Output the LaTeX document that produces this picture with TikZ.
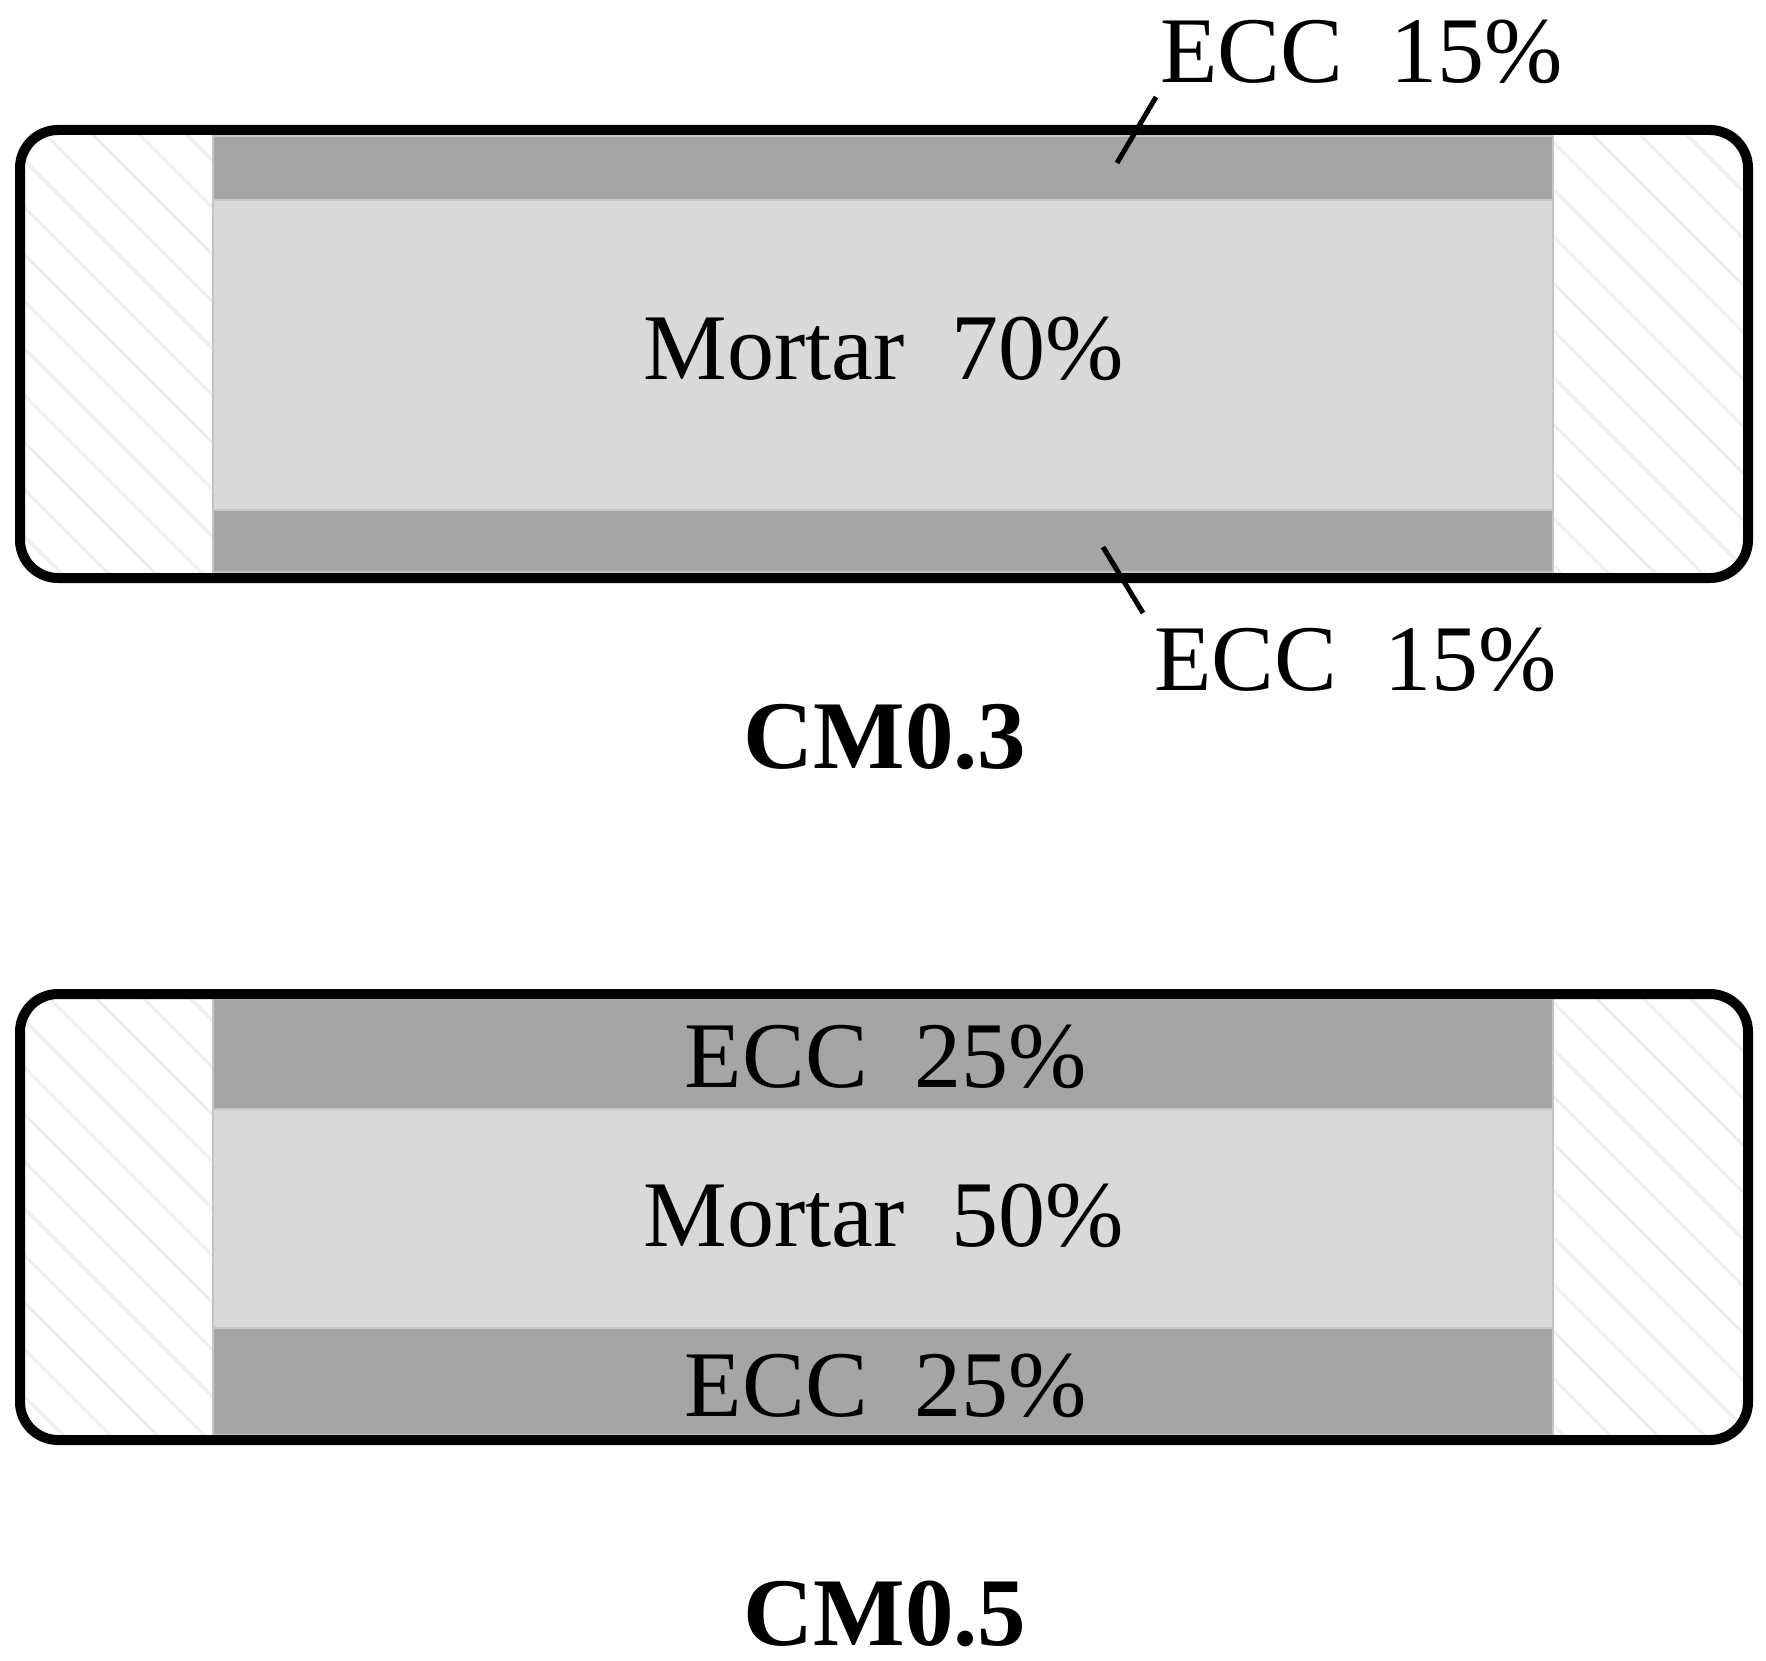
\documentclass[tikz,border=0pt]{standalone}
\usepackage{fontspec}
\setmainfont{Liberation Serif}
\definecolor{ecc}{HTML}{A5A5A5}
\definecolor{mortar}{HTML}{D9D9D9}
\definecolor{edge}{HTML}{C4C4C4}
\definecolor{hatch}{HTML}{EFEFEF}
\begin{document}
\begin{tikzpicture}[x=1pt,y=-1pt,
  lbl/.style={inner sep=0pt,font=\fontsize{94}{100}\selectfont},
  ttl/.style={inner sep=0pt,font=\fontsize{97}{100}\selectfont\bfseries},
  eccband/.style={fill=ecc,draw=edge,line width=1.5pt},
  mortarband/.style={fill=mortar,draw=edge,line width=1.5pt},
  frame/.style={draw=black,line width=10pt,rounded corners=38pt},
  leader/.style={draw=black,line width=5pt}]
\useasboundingbox (0,0) rectangle (1766,1661);

% ---------- specimen CM0.3 ----------
\begin{scope}
  \clip (25,135) rectangle (213,573);
  \foreach \k in {-600,-553,...,300} \draw[hatch,line width=3pt] (\k,100) -- ++(520,520);
\end{scope}
\begin{scope}
  \clip (1553,135) rectangle (1743,573);
  \foreach \k in {900,947,...,1800} \draw[hatch,line width=3pt] (\k,100) -- ++(520,520);
\end{scope}
\draw[eccband] (213,136) rectangle (1553,200);
\draw[mortarband] (213,200) rectangle (1553,510);
\draw[eccband] (213,510) rectangle (1553,572);
\draw[frame] (20,130) rectangle (1748,578);

\node[lbl,anchor=base] (m70) at (884,379) {Mortar~~70\%};
\node[lbl,anchor=base west] (e15t) at (1160,83) {ECC~~15\%};
\node[lbl,anchor=base west] (e15b) at (1154,690) {ECC~~15\%};
\coordinate (p1) at (1117,163);
\coordinate (p2) at (1103,547);
\draw[leader] (p1) -- (1156,97);
\draw[leader] (p2) -- (1143,613);
\node[ttl,anchor=base] (cm3) at (885,768) {CM0.3};

% ---------- specimen CM0.5 ----------
\begin{scope}
  \clip (25,999) rectangle (213,1435);
  \foreach \k in {-600,-553,...,300} \draw[hatch,line width=3pt] (\k,960) -- ++(520,520);
\end{scope}
\begin{scope}
  \clip (1553,999) rectangle (1743,1435);
  \foreach \k in {900,947,...,1800} \draw[hatch,line width=3pt] (\k,960) -- ++(520,520);
\end{scope}
\draw[eccband] (213,999) rectangle (1553,1109);
\draw[mortarband] (213,1109) rectangle (1553,1328);
\draw[eccband] (213,1328) rectangle (1553,1435);
\draw[frame] (20,994) rectangle (1748,1440);

\node[lbl,anchor=base] (e25t) at (886,1087) {ECC~~25\%};
\node[lbl,anchor=base] (m50) at (884,1246) {Mortar~~50\%};
\node[lbl,anchor=base] (e25b) at (886,1416) {ECC~~25\%};
\node[ttl,anchor=base] (cm5) at (885,1645) {CM0.5};
\end{tikzpicture}
\end{document}
